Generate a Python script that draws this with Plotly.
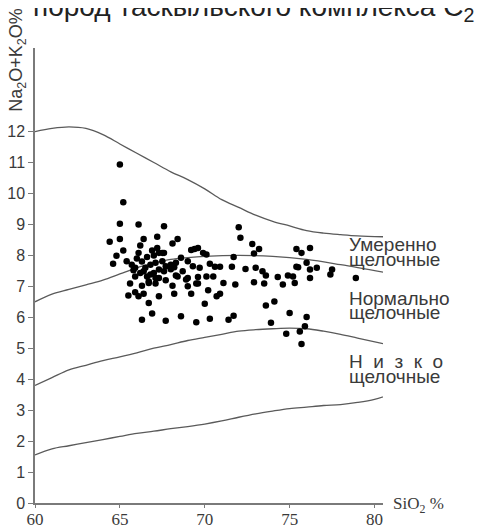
import plotly.graph_objects as go

# Boundary curves (SiO2 %, Na2O+K2O %)
upper_x = [60, 61, 62, 63, 64, 65, 66, 67, 68, 69, 70, 71, 72, 73, 74, 75, 76, 77, 78, 79, 80.6]
upper_y = [12.0, 12.1, 12.15, 12.1, 11.9, 11.6, 11.3, 11.0, 10.7, 10.45, 10.15, 9.8, 9.55, 9.3, 9.1, 8.95, 8.8, 8.72, 8.67, 8.63, 8.6]

mid_x = [60, 61, 62, 63, 64, 65, 66, 67, 68, 69, 70, 72, 74, 76, 78, 80.6]
mid_y = [6.5, 6.75, 6.9, 7.05, 7.2, 7.4, 7.6, 7.75, 7.87, 7.93, 7.97, 8.0, 7.97, 7.87, 7.7, 7.45]

low_x = [60, 61, 62, 63, 64, 65, 66, 67, 68, 69, 70, 71, 72, 73, 74, 75, 76, 77, 78, 79, 80.5]
low_y = [3.8, 4.05, 4.3, 4.45, 4.6, 4.72, 4.85, 5.0, 5.12, 5.25, 5.35, 5.45, 5.55, 5.6, 5.63, 5.65, 5.63, 5.55, 5.45, 5.33, 5.15]

bottom_x = [60, 61, 62, 63, 64, 65, 66, 67, 68, 69, 70, 71, 72, 73, 74, 75, 76, 77, 78, 79, 80, 80.9]
bottom_y = [1.55, 1.75, 1.85, 1.95, 2.05, 2.15, 2.25, 2.32, 2.4, 2.47, 2.55, 2.65, 2.77, 2.88, 2.97, 3.05, 3.1, 3.15, 3.18, 3.25, 3.35, 3.5]

# Samples
sio2 = [65.0, 65.2, 65.0, 66.1, 67.6, 64.4, 65.0, 67.2, 68.4, 68.1, 66.4, 66.2, 65.2, 64.8, 64.6,
        66.1, 66.9, 67.2, 67.3, 67.5, 69.2, 69.4, 69.6, 69.9, 70.1, 72.0, 72.1, 72.8, 73.2, 72.9,
        71.7, 75.4, 75.4, 65.4, 65.7, 65.9, 66.5, 66.8, 67.1, 67.5, 67.7, 68.0, 68.3, 68.6, 69.0,
        69.3, 69.7, 70.3, 70.6, 70.9, 71.6, 72.4, 73.0, 73.4, 73.6, 74.3, 74.9, 75.2, 74.6, 75.3,
        72.9, 73.5, 71.8, 71.1, 70.5, 70.1, 69.6, 69.5, 69.0, 69.0, 68.7, 68.3, 67.7, 67.3, 67.0,
        66.6, 66.2, 65.9, 67.3, 67.1, 66.7, 66.3, 65.6, 68.1, 68.2, 69.2, 70.2, 70.7, 70.9, 65.5,
        65.9, 66.1, 66.4, 67.3, 66.7, 70.0, 73.6, 74.1, 75.0, 66.9, 66.3, 67.7, 68.6, 69.5, 70.3,
        71.4, 71.7, 73.9, 74.8, 75.7, 76.2, 76.0, 76.2, 76.6, 76.2, 75.5, 77.5, 77.4, 76.0, 75.9,
        75.6, 75.7, 78.9, 65.8, 66.7, 66.4, 66.8, 67.1, 67.6, 68.9, 69.6, 67.6, 68.0, 68.2, 68.4,
        66.0, 66.3, 66.6, 67.0]
alk = [10.94, 9.72, 9.02, 9.0, 8.94, 8.44, 8.53, 8.6, 8.53, 8.38, 8.53, 8.32, 8.16, 7.99, 7.73,
       8.08, 8.16, 8.24, 8.08, 8.08, 8.17, 8.21, 8.24, 8.08, 8.03, 8.91, 8.57, 8.37, 8.21, 8.06,
       7.95, 8.21, 7.63, 7.81, 7.7, 7.6, 7.6, 7.7, 7.76, 7.81, 7.65, 7.7, 7.76, 7.92, 7.81,
       7.65, 7.6, 7.73, 7.63, 7.63, 7.63, 7.56, 7.6, 7.49, 7.35, 7.3, 7.35, 7.32, 7.06, 7.11,
       7.13, 7.09, 7.06, 7.11, 7.32, 7.32, 7.3, 7.09, 7.27, 7.0, 7.49, 7.35, 7.2, 7.54, 7.43,
       7.32, 7.43, 7.32, 7.27, 7.09, 7.16, 7.02, 7.09, 7.02, 6.76, 6.76, 6.87, 6.68, 6.76, 6.70,
       6.81, 6.68, 6.76, 6.68, 6.46, 6.44, 6.38, 6.51, 6.14, 6.12, 5.92, 5.89, 6.03, 5.84, 5.95,
       5.92, 6.05, 5.82, 5.47, 8.08, 8.24, 7.76, 7.54, 7.6, 7.27, 7.62, 7.54, 7.38, 6.01, 5.71,
       5.54, 5.14, 7.27, 7.52, 7.11, 7.49, 7.38, 7.27, 8.08, 7.22, 7.09, 7.49, 7.55, 7.62, 7.32,
       7.9, 7.8, 7.95, 8.0]

x_ticks = [60, 65, 70, 75, 80]
y_ticks = list(range(0, 13))

LINE = "#5a5a5a"
AXIS = "#7a7a7a"
TXT = "#3a3a3a"

fig = go.Figure()
for cx, cy in [(upper_x, upper_y), (mid_x, mid_y), (low_x, low_y), (bottom_x, bottom_y)]:
    fig.add_trace(go.Scatter(x=cx, y=cy, mode="lines", line=dict(color=LINE, width=1.3, shape="spline"),
                             cliponaxis=False, hoverinfo="skip", showlegend=False))
fig.add_trace(go.Scatter(x=sio2, y=alk, mode="markers", marker=dict(color="black", size=6.5),
                         cliponaxis=False, showlegend=False))

fig.update_xaxes(range=[60, 80.5], tickvals=x_ticks, ticks="outside", ticklen=3, tickcolor=AXIS,
                 showline=True, linecolor=AXIS, linewidth=1.5, showgrid=False, zeroline=False,
                 automargin=False, ticklabelstandoff=-3,
                 tickfont=dict(family="Liberation Serif", size=17, color=TXT))
fig.update_yaxes(range=[0, 14.7], tickvals=y_ticks, ticks="outside", ticklen=5, tickcolor=AXIS,
                 showline=True, linecolor=AXIS, linewidth=1.5, showgrid=False, zeroline=False,
                 automargin=False,
                 tickfont=dict(family="Liberation Sans", size=16, color=TXT))

labels = [
    ("Умеренно", 8.34), ("щелочные", 7.88),
    ("Нормально", 6.62), ("щелочные", 6.14),
    ("Н  и  з  к  о", 4.56), ("щелочные", 4.10),
]
for t, yy in labels:
    fig.add_annotation(x=78.4, y=yy, xref="x", yref="y", text=t, showarrow=False,
                       xanchor="left", yanchor="middle",
                       font=dict(family="Liberation Sans", size=19, color=TXT))

fig.add_annotation(x=1.024, y=-0.004, xref="paper", yref="paper", text="SiO<sub>2</sub> %",
                   showarrow=False, xanchor="left", yanchor="middle",
                   font=dict(family="Liberation Serif", size=17, color=TXT))
fig.add_annotation(x=-0.049, y=0.974, xref="paper", yref="paper", text="Na<sub>2</sub>O+K<sub>2</sub>O%",
                   showarrow=False, textangle=-90, xanchor="center", yanchor="middle",
                   font=dict(family="Liberation Sans", size=18, color=TXT))
fig.add_annotation(x=0.628, y=1.088, yshift=-1, xref="paper", yref="paper",
                   text="пород таскыльского комплекса С<sub>2</sub>",
                   showarrow=False, xanchor="center", yanchor="middle",
                   font=dict(family="Liberation Sans", size=28, color="#222"))

# page body adds an 8px offset; margins compensate
fig.update_layout(width=487, height=529, margin=dict(l=27, r=111.5, t=40, b=34),
                  paper_bgcolor="white", plot_bgcolor="white")
fig.write_html("out.html")
